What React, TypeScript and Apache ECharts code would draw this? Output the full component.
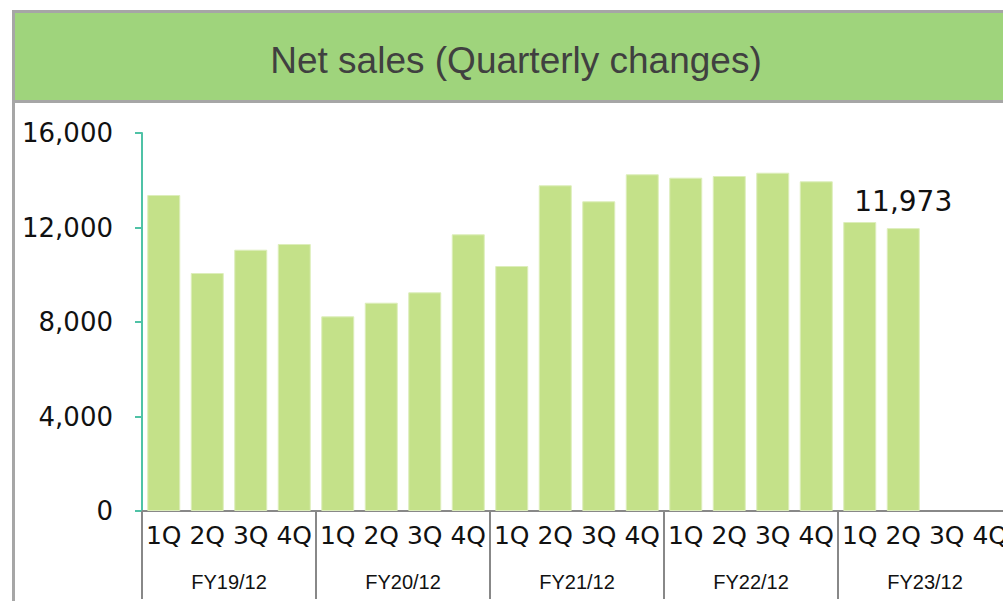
import React, { useEffect, useRef } from "react";
import * as echarts from "echarts";

const quarters = ["1Q", "2Q", "3Q", "4Q", "1Q", "2Q", "3Q", "4Q", "1Q", "2Q", "3Q", "4Q", "1Q", "2Q", "3Q", "4Q", "1Q", "2Q", "3Q", "4Q"];
const fiscalYears = ["FY19/12", "FY20/12", "FY21/12", "FY22/12", "FY23/12"];
const netSales: (number | null)[] = [
  13375, 10074, 11060, 11302,
  8240, 8817, 9256, 11712,
  10370, 13787, 13109, 14252,
  14109, 14180, 14320, 13955,
  12232, 11973, null, null,
];
const yTicks = [0, 4000, 8000, 12000, 16000];
const titleText = "Net sales (Quarterly changes)";

export default function App() {
  const ref = useRef<HTMLDivElement>(null);
  useEffect(() => {
    if (!ref.current) return;
    const chart = echarts.init(ref.current, null, { renderer: "svg" });
    let lastIdx = -1;
    netSales.forEach((v, i) => { if (v != null) lastIdx = i; });
    const data = netSales.map((v, i) =>
      i === lastIdx
        ? { value: v, label: { show: true } }
        : { value: v }
    );
    chart.setOption({
      animation: false,
      backgroundColor: "#ffffff",
      grid: { left: 142, right: 0, top: 133, bottom: 90, containLabel: false },
      xAxis: [
        {
          type: "category",
          position: "bottom",
          data: quarters,
          axisLine: { show: true, lineStyle: { color: "#888888", width: 2 } },
          axisTick: { show: false },
          axisLabel: {
            interval: 0,
            margin: 12,
            fontFamily: "DejaVu Sans",
            fontSize: 25,
            color: "#111111",
          },
          splitLine: { show: false },
        },
        {
          type: "category",
          position: "bottom",
          data: fiscalYears,
          axisLine: { show: false },
          axisTick: { show: true, length: 88, lineStyle: { color: "#888888", width: 2 } },
          axisLabel: {
            interval: 0,
            margin: 61,
            fontFamily: "Liberation Sans",
            fontSize: 20,
            color: "#111111",
          },
          splitLine: { show: false },
        },
      ],
      yAxis: {
        type: "value",
        min: yTicks[0],
        max: yTicks[yTicks.length - 1],
        interval: 4000,
        axisLine: { show: true, lineStyle: { color: "#4fc2a6", width: 2 } },
        axisTick: { show: true, length: 7, lineStyle: { color: "#4fc2a6", width: 2 } },
        axisLabel: {
          margin: 29,
          fontFamily: "DejaVu Sans",
          fontSize: 26,
          color: "#111111",
          formatter: (v: number) => v.toLocaleString("en-US"),
        },
        splitLine: { show: false },
      },
      series: [
        {
          type: "bar",
          xAxisIndex: 0,
          data,
          barWidth: 33,
          itemStyle: { color: "#c4e189", borderColor: "#ddeebb", borderWidth: 1 },
          label: {
            show: false,
            position: "top",
            distance: 13,
            fontFamily: "DejaVu Sans",
            fontSize: 28,
            color: "#111111",
            formatter: (p: any) => Number(p.value).toLocaleString("en-US"),
          },
        },
      ],
      graphic: [
        {
          type: "rect",
          shape: { x: 13.5, y: 11.5, width: 1010, height: 90 },
          style: { fill: "#9fd47c", stroke: "#a6a6a6", lineWidth: 3 },
          z: 10,
        },
        {
          type: "line",
          shape: { x1: 13.5, y1: 101, x2: 13.5, y2: 601 },
          style: { stroke: "#a6a6a6", lineWidth: 3 },
          z: 10,
        },
        {
          type: "text",
          x: 516,
          y: 60,
          style: {
            text: titleText,
            fontFamily: "Liberation Sans",
            fontSize: 37,
            fill: "#404040",
            textAlign: "center",
            textVerticalAlign: "middle",
          },
          z: 11,
        },
      ],
    });
    return () => chart.dispose();
  }, []);
  return (
    <div style={{ position: "fixed", left: 0, top: 0, width: 1003, height: 601, overflow: "hidden" }}>
      <div ref={ref} style={{ width: 1012, height: 601 }} />
    </div>
  );
}
